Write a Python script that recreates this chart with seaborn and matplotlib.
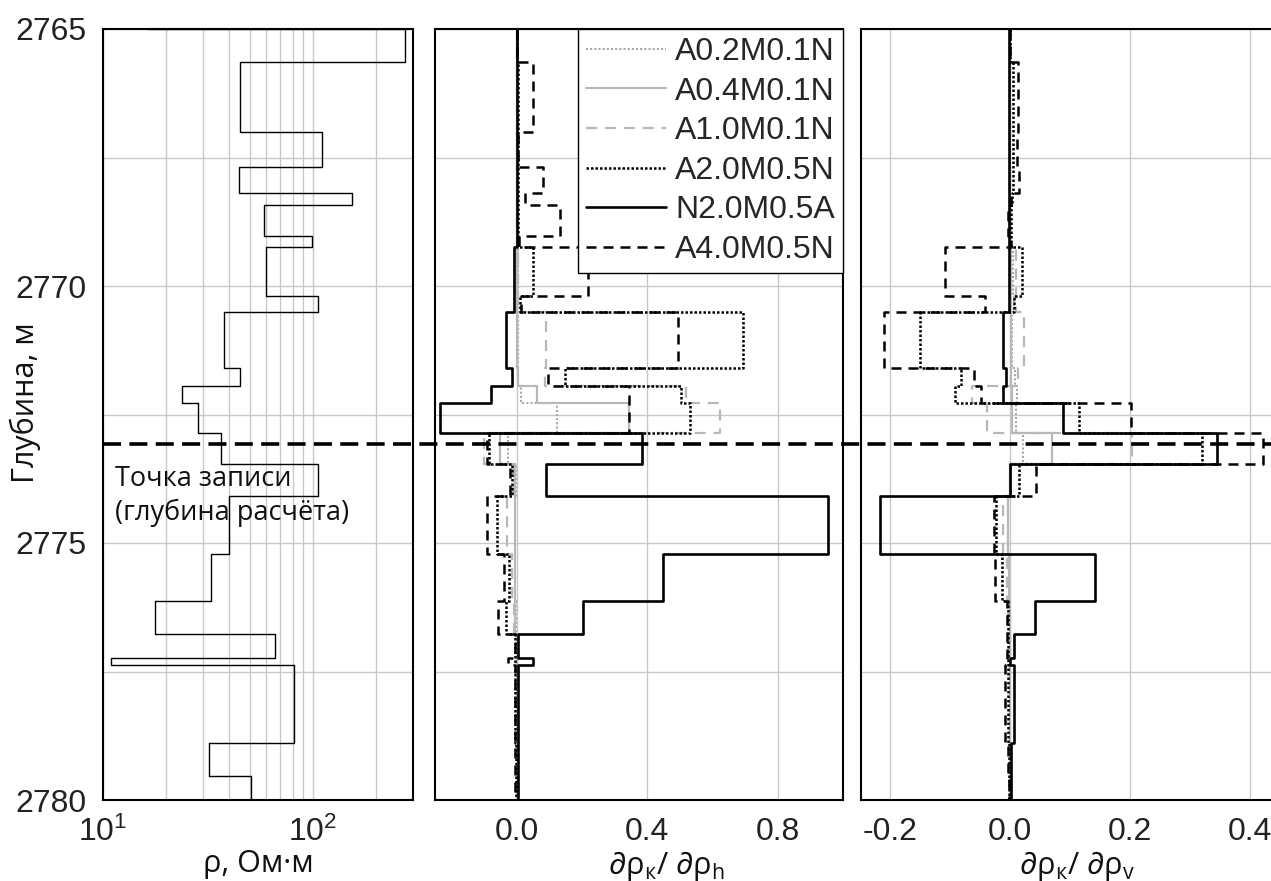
import matplotlib
matplotlib.use('Agg')
import matplotlib.pyplot as plt
import seaborn as sns
from matplotlib.lines import Line2D
from matplotlib import transforms
from matplotlib.ticker import MultipleLocator, FixedLocator, NullFormatter

# layer boundaries (depth, m)
edges = [2765.0, 2765.64, 2767.0, 2767.68, 2768.2, 2768.43, 2769.03, 2769.25, 2770.19,
         2770.51, 2771.59, 2771.94, 2772.28, 2772.86, 2773.46, 2774.08, 2775.21,
         2776.13, 2776.77, 2777.23, 2777.37, 2778.9, 2779.53, 2780.0]

# resistivity per layer, Ohm*m
rho = [274, 44.9, 110.7, 44.3, 152.8, 58.6, 99.3, 59.5, 106, 37.6, 44.8, 23.8,
       28.5, 36.3, 106, 39.9, 32.6, 17.7, 66.1, 10.9, 81.4, 32.1, 50.7]
rho_above = 16.4
depth_above = 2764.0

record_depth = 2773.07

series = ['A0.2M0.1N', 'A0.4M0.1N', 'A1.0M0.1N', 'A2.0M0.5N', 'N2.0M0.5A', 'A4.0M0.5N']

# d rho_k / d rho_h
sens_h = {
    'A0.2M0.1N': [0, 0, 0, 0, 0, 0, 0, 0.003, 0.005, 0.005, 0.005, 0.012, 0.123, -0.026,
                  -0.003, -0.004, -0.004, -0.003, 0, 0, 0, 0, 0],
    'A0.4M0.1N': [0, 0, 0, 0, 0, 0, 0, 0.002, 0.002, 0.002, 0.003, 0.063, 0.345, -0.05,
                  -0.004, -0.006, -0.005, -0.004, 0, 0, 0, 0, 0],
    'A1.0M0.1N': [0, 0, 0, 0, 0, 0, 0, 0.005, 0.005, 0.09, 0.088, 0.52, 0.624, -0.1,
                  -0.01, -0.029, -0.015, -0.008, 0, 0, 0, 0, 0],
    'A2.0M0.5N': [0, 0.005, 0.005, 0.005, 0.005, 0.005, 0.005, 0.051, 0.01, 0.695, 0.148,
                  0.503, 0.53, -0.085, -0.015, -0.061, -0.024, -0.031, -0.004, -0.006,
                  -0.004, -0.003, -0.003],
    'N2.0M0.5A': [0, 0, 0, 0, 0, 0, 0, -0.007, -0.007, -0.033, -0.015, -0.077, -0.235,
                  0.383, 0.09, 0.953, 0.448, 0.204, 0.003, 0.05, 0.003, 0.003, 0.003],
    'A4.0M0.5N': [0, 0.049, 0.005, 0.082, 0.026, 0.133, 0.006, 0.219, 0.015, 0.494, 0.097,
                  0.345, 0.345, -0.09, -0.02, -0.09, -0.039, -0.058, -0.005, -0.026,
                  -0.005, -0.004, -0.004],
}

# d rho_k / d rho_v
sens_v = {
    'A0.2M0.1N': [0, 0, 0, 0, 0, 0, 0, 0.004, 0.006, 0.003, 0.008, 0.011, 0.01, 0.022,
                  0.001, -0.003, -0.002, -0.001, 0, 0, 0, 0, 0],
    'A0.4M0.1N': [0, 0, 0, 0, 0, 0, 0, 0.001, 0.001, 0.001, 0.002, 0.003, 0.003, 0.07,
                  0.0, -0.004, -0.002, -0.001, 0, 0, 0, 0, 0],
    'A1.0M0.1N': [0, 0, 0, 0, 0, 0, 0, 0.01, 0.01, 0.023, 0.013, -0.064, -0.039, 0.204,
                  0.0, -0.012, -0.006, -0.003, 0, 0, 0, 0, 0],
    'A2.0M0.5N': [0, 0.004, 0.004, 0.004, 0.003, 0.002, 0.002, 0.019, 0.006, -0.151,
                  -0.082, -0.093, 0.114, 0.32, 0.015, -0.024, -0.014, -0.004, -0.004,
                  -0.004, -0.004, -0.002, -0.002],
    'N2.0M0.5A': [-0.002, -0.002, -0.002, -0.002, -0.002, -0.002, -0.002, -0.002, -0.002,
                  -0.012, -0.007, -0.012, 0.088, 0.345, 0.0, -0.218, 0.141, 0.042, 0.006,
                  0.0, 0.006, 0.001, 0.001],
    'A4.0M0.5N': [0, 0.013, 0.012, 0.014, 0.002, -0.004, 0.002, -0.109, -0.042, -0.21,
                  -0.06, -0.048, 0.201, 0.422, 0.043, -0.027, -0.026, -0.005, -0.006,
                  -0.006, -0.008, -0.003, -0.002],
}

styles = {
    'A0.2M0.1N': dict(color='#a8a8a8', ls=(0, (1, 1)), lw=1.5),
    'A0.4M0.1N': dict(color='#b8b8b8', ls='-', lw=1.6),
    'A1.0M0.1N': dict(color='#b8b8b8', ls=(0, (5, 3.5)), lw=1.6),
    'A2.0M0.5N': dict(color='black', ls=(0, (1, 0.8)), lw=1.8),
    'N2.0M0.5A': dict(color='black', ls='-', lw=1.9),
    'A4.0M0.5N': dict(color='black', ls=(0, (4, 2.8)), lw=1.8),
}


def steps(values, bounds):
    xs, ys = [], []
    for i, v in enumerate(values):
        xs += [v, v]
        ys += [bounds[i], bounds[i + 1]]
    return xs, ys


sns.set_theme(style='white')
plt.rcParams['font.family'] = ['Liberation Sans', 'DejaVu Sans']
plt.rcParams['axes.unicode_minus'] = False
plt.rcParams['mathtext.fontset'] = 'custom'
plt.rcParams['mathtext.rm'] = 'Open Sans'
plt.rcParams['mathtext.it'] = 'Open Sans'
plt.rcParams['mathtext.bf'] = 'Open Sans:bold'

W, H = 1271, 881
fig = plt.figure(figsize=(W / 100, H / 100), dpi=100)
top, bot = 29, 800
ax1 = fig.add_axes([103 / W, (H - bot) / H, 310 / W, (bot - top) / H])
ax2 = fig.add_axes([435 / W, (H - bot) / H, 408 / W, (bot - top) / H])
ax3 = fig.add_axes([860.5 / W, (H - bot) / H, 419.3 / W, (bot - top) / H])

grid_kw = dict(color='#c8c8c8', lw=1.0)
tick_color = '#222222'

# resistivity panel
x, y = steps([rho_above] + rho, [depth_above] + edges)
sns.lineplot(x=x, y=y, sort=False, estimator=None, color='black', lw=1.0, ax=ax1)
ax1.set_xscale('log')
ax1.set_xlim(10, 300)
ax1.xaxis.set_major_locator(FixedLocator([10, 100]))
ax1.xaxis.set_minor_locator(FixedLocator([20, 30, 40, 50, 60, 70, 80, 90, 200]))
ax1.xaxis.set_minor_formatter(NullFormatter())
ax1.tick_params(axis='x', which='minor', length=0)

# sensitivity panels
for ax, sens, xlim, step in [(ax2, sens_h, (-0.25, 1.0), 0.4), (ax3, sens_v, (-0.25, 0.45), 0.2)]:
    for name in series:
        x, y = steps(sens[name], edges)
        st = styles[name]
        sns.lineplot(x=x, y=y, sort=False, estimator=None, color=st['color'],
                     linestyle=st['ls'], lw=st['lw'], ax=ax)
    ax.set_xlim(*xlim)
    ax.xaxis.set_major_locator(MultipleLocator(step))
    ax.xaxis.set_major_formatter(plt.FuncFormatter(lambda v, p: f'{v:.1f}'))
    ax.tick_params(axis='y', labelleft=False)

for ax in (ax1, ax2, ax3):
    ax.set_ylim(2780, 2765)
    ax.yaxis.set_major_locator(MultipleLocator(5))
    ax.yaxis.set_minor_locator(MultipleLocator(2.5))
    ax.grid(True, which='both', **grid_kw)
    ax.set_axisbelow(True)
    for s in ax.spines.values():
        s.set_color('black')
        s.set_linewidth(1.5)
    ax.tick_params(which='major', direction='in', length=11, width=1.5, color='black',
                   labelsize=23, labelcolor=tick_color, pad=12)
    ax.tick_params(which='minor', axis='y', direction='in', length=3, width=1, color='black')
    ax.set_xlabel('')
    ax.set_ylabel('')

ax2.tick_params(axis='y', which='both', length=0)
ax1.set_yticks([2765, 2770, 2775, 2780])
ax1.set_yticklabels(['2765', '2770', '2775', '2780'])

# axis labels
lab_family = ['Open Sans', 'DejaVu Sans']
lab_kw = dict(fontsize=22, fontfamily=lab_family, color='#111111')
fig.text(25 / W, 1 - 403 / H, 'Глубина, м', rotation=90, ha='center', va='center', **lab_kw)
ax1.set_xlabel('ρ, Ом·м', **lab_kw)
ax2.set_xlabel('∂ρ$_{к}$/ ∂ρ$_{h}$', **lab_kw)
ax3.set_xlabel('∂ρ$_{к}$/ ∂ρ$_{v}$', **lab_kw)
ax1.xaxis.set_label_coords(0.5, -0.063)
ax2.xaxis.set_label_coords((666 - 435) / 408, -0.063)
ax3.xaxis.set_label_coords((1077 - 860.5) / 419.3, -0.063)

ax1.text(0.039, 0.435, 'Точка записи\n(глубина расчёта)', transform=ax1.transAxes,
         ha='left', va='top', fontsize=19.5, fontfamily=lab_family, linespacing=1.3,
         color='#111111')

# legend
handles = [Line2D([], [], color=styles[n]['color'], ls=styles[n]['ls'], lw=styles[n]['lw'])
           for n in series]
leg = ax2.legend(handles, series, loc='upper right', fontsize=23, frameon=True,
                 fancybox=False, edgecolor='black', framealpha=1, borderaxespad=0,
                 handlelength=2.5, handletextpad=0.3, labelspacing=0.3, borderpad=0.25)
leg.get_frame().set_linewidth(1.0)

# recording point line across all panels
tr = transforms.blended_transform_factory(fig.transFigure, ax1.transData)
fig.add_artist(Line2D([103 / W, 1.0], [record_depth, record_depth], transform=tr,
                      color='black', lw=2.6, ls=(0, (5, 2.3)), zorder=10))

fig.savefig('out.png', dpi=100)
